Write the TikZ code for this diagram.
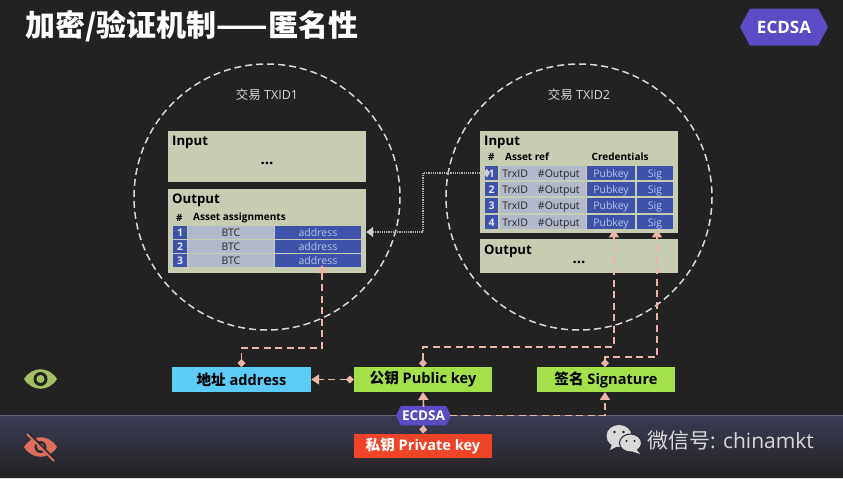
\documentclass[tikz,border=0pt]{standalone}
\usepackage{fontspec}
\usepackage{tikz}
\usetikzlibrary{arrows.meta,shapes.symbols}
\setmainfont{Open Sans}
\newfontfamily\cjk{Noto Sans CJK SC}
\definecolor{bgdark}{HTML}{222222}
\definecolor{bandtop}{HTML}{3B3C54}
\definecolor{boxgreen}{HTML}{C6CDB2}
\definecolor{cellblue}{HTML}{3F52AA}
\definecolor{cellgrey}{HTML}{B2B9CB}
\definecolor{celltext}{HTML}{B9C6EA}
\definecolor{keypink}{HTML}{EDB5A6}
\definecolor{badgeviolet}{HTML}{5B4BC4}
\definecolor{eyegreen}{HTML}{A3C062}
\definecolor{eyered}{HTML}{DF6F5A}
\definecolor{addrblue}{HTML}{5CCBF5}
\definecolor{pubgreen}{HTML}{A4E04A}
\definecolor{privred}{HTML}{F04428}
\tikzset{
  txbox/.style={rectangle,fill=boxgreen,inner sep=0pt},
  txtitle/.style={anchor=west,inner sep=0pt,text=black,font=\fontsize{13.2}{16}\selectfont\bfseries},
  txhead/.style={anchor=west,inner sep=0pt,text=black,font=\fontsize{10}{12}\selectfont\bfseries},
  txdots/.style={inner sep=0pt,text=black,font=\fontsize{15}{16}\selectfont\bfseries},
  circlabel/.style={inner sep=0pt,text=white!85!black,font=\fontsize{12.5}{14}\selectfont},
  numcell/.style={rectangle,fill=cellblue,inner sep=0pt,minimum height=13pt,text height=8.4pt,text depth=0pt,text=white!85!cellblue,font=\fontsize{10.5}{12}\selectfont\bfseries},
  keycell/.style={rectangle,fill=cellblue,inner sep=0pt,minimum height=13pt,text height=8.4pt,text depth=0pt,text=celltext,font=\fontsize{10.5}{12}\selectfont},
  greycell/.style={rectangle,fill=cellgrey,inner sep=0pt,minimum height=13pt,text height=8.4pt,text depth=0pt,text=black!85,font=\fontsize{10.5}{12}\selectfont},
  keybox/.style={rectangle,inner sep=0pt,minimum width=138pt,minimum height=24.5pt,text=black,font=\fontsize{14.6}{16}\selectfont\bfseries},
  badge/.style={signal,signal to=east and west,fill=badgeviolet,inner sep=0pt,text=white,font=\bfseries},
  keyline/.style={line width=1.6pt,keypink,dash pattern=on 7pt off 4.5pt,{Diamond[length=8pt,width=8pt]}-{Triangle[length=8pt,width=10pt]}},
  refline/.style={line width=1.2pt,white!70!black,densely dotted,{Diamond[length=6pt,width=9pt,fill=cellgrey!70!white,color=cellgrey!70!white]}-{Triangle[length=7pt,width=10pt,fill=cellgrey!70!white,color=cellgrey!70!white]}}
}
\begin{document}
\begin{tikzpicture}[x=1pt,y=-1pt]
\useasboundingbox (0,0) rectangle (843,479);
\fill[bgdark] (0,0) rectangle (843,479);
\shade[top color=bandtop,bottom color=bgdark] (0,415) rectangle (843,478);
\draw[bandtop!80!white,line width=0.8pt] (0,415) -- (843,415);
\fill[white!85!black] (0,478) rectangle (843,479);

\node [anchor=west,inner sep=0pt,text=white,font=\fontsize{30}{34}\selectfont\cjk\bfseries] (title) at(25,26){加密/验证机制——匿名性};
\node [badge,minimum width=88pt,minimum height=37pt,signal pointer angle=124,font=\fontsize{17}{19}\selectfont\bfseries] (ecdsatop) at(784,27){ECDSA};

\draw [line width=1.5pt,white!85!black,dash pattern=on 7pt off 4pt] (267,197) circle (133);
\draw [line width=1.5pt,white!85!black,dash pattern=on 7pt off 4pt] (579,197) circle (133);
\node [circlabel] (tx1) at(267,95){{\cjk 交易} TXID1};
\node [circlabel] (tx2) at(579,95){{\cjk 交易} TXID2};

% left transaction
\node [txbox,minimum width=198pt,minimum height=51pt] (in1) at(267,156.5){};
\node [txtitle] (in1t) at(172,142){Input};
\node [txdots] (in1d) at(267,163){...};
\node [txbox,minimum width=198pt,minimum height=84pt] (out1) at(267,231){};
\node [txtitle] (out1t) at(172,200){Output};
\node [txhead] (out1h) at(176,217.5){\#};
\node [txhead] (out1a) at(193,217.5){Asset assignments};
\node [numcell,minimum width=14pt] (o1n) at(180,232){1};
\node [greycell,minimum width=86pt] (o1b) at(231,232){BTC};
\node [keycell,minimum width=85.5pt] (o1a) at(318,232){address};
\node [numcell,minimum width=14pt] (o2n) at(180,246.5){2};
\node [greycell,minimum width=86pt] (o2b) at(231,246.5){BTC};
\node [keycell,minimum width=85.5pt] (o2a) at(318,246.5){address};
\node [numcell,minimum width=14pt] (o3n) at(180,260.5){3};
\node [greycell,minimum width=86pt] (o3b) at(231,260.5){BTC};
\node [keycell,minimum width=85.5pt] (o3a) at(318,260.5){address};

% right transaction
\node [txbox,minimum width=198pt,minimum height=102pt] (in2) at(579,182){};
\node [txtitle] (in2t) at(484,142){Input};
\node [txhead] (in2h) at(488,157){\#};
\node [txhead] (in2a) at(505,157){Asset ref};
\node [txhead] (in2c) at(591.5,157){Credentials};
\node [numcell,minimum width=13pt,minimum height=14.5pt] (r1n) at(491.5,173){1};
\node [greycell,minimum width=86pt,minimum height=14.5pt] (r1g) at(543,173){\hspace{-4pt}TrxID\hspace{10pt}\#Output};
\node [keycell,minimum width=48pt,minimum height=14.5pt] (r1p) at(611,173){Pubkey};
\node [keycell,minimum width=36pt,minimum height=14.5pt] (r1s) at(655,173){Sig};
\node [numcell,minimum width=13pt,minimum height=14.5pt] (r2n) at(491.5,189){2};
\node [greycell,minimum width=86pt,minimum height=14.5pt] (r2g) at(543,189){\hspace{-4pt}TrxID\hspace{10pt}\#Output};
\node [keycell,minimum width=48pt,minimum height=14.5pt] (r2p) at(611,189){Pubkey};
\node [keycell,minimum width=36pt,minimum height=14.5pt] (r2s) at(655,189){Sig};
\node [numcell,minimum width=13pt,minimum height=14.5pt] (r3n) at(491.5,205.5){3};
\node [greycell,minimum width=86pt,minimum height=14.5pt] (r3g) at(543,205.5){\hspace{-4pt}TrxID\hspace{10pt}\#Output};
\node [keycell,minimum width=48pt,minimum height=14.5pt] (r3p) at(611,205.5){Pubkey};
\node [keycell,minimum width=36pt,minimum height=14.5pt] (r3s) at(655,205.5){Sig};
\node [numcell,minimum width=13pt,minimum height=14.5pt] (r4n) at(491.5,222){4};
\node [greycell,minimum width=86pt,minimum height=14.5pt] (r4g) at(543,222){\hspace{-4pt}TrxID\hspace{10pt}\#Output};
\node [keycell,minimum width=48pt,minimum height=14.5pt] (r4p) at(611,222){Pubkey};
\node [keycell,minimum width=36pt,minimum height=14.5pt] (r4s) at(655,222){Sig};
\node [txbox,minimum width=198pt,minimum height=34pt] (out2) at(579,256){};
\node [txtitle] (out2t) at(484,251){Output};
\node [txdots] (out2d) at(579,262){...};

% keys
\node [keybox,fill=addrblue,minimum width=139pt] (addr) at(241.5,379.5){{\cjk 地址} address};
\node [keybox,fill=pubgreen] (pub) at(423,379.5){{\cjk 公钥} Public key};
\node [keybox,fill=pubgreen] (sig) at(606,379.5){{\cjk 签名} Signature};
\node [keybox,fill=privred,text=white] (priv) at(423,446){{\cjk 私钥} Private key};
\node [badge,minimum width=55pt,minimum height=19.5pt,signal pointer angle=126,font=\fontsize{13.5}{15}\selectfont\bfseries] (ecdsa) at(423.5,415.5){ECDSA};

\coordinate (addrbend) at(241.5,348);
\coordinate (pubbend) at(423,347);
\coordinate (sigbend) at(605,357);
\coordinate (dotbend) at(423,232);

\draw[refline] ([xshift=5pt]r1n.west) -| (dotbend) -- (dotbend -| out1.east);
\draw[keyline] (addr.north) |- (addrbend) -| ([xshift=4pt,yshift=2pt]o3a.south);
\draw[keyline] (pub.west) -- (addr.east);
\draw[keyline] (pub.north) |- (pubbend) -| ([xshift=3pt]r4p.south);
\draw[keyline] (sigbend |- sig.north) -- (sigbend) -| ([xshift=2pt]r4s.south);
\draw[keyline,{Diamond[length=8pt,width=8pt]}-] (priv.north) -- (ecdsa.south);
\draw[keyline,{Diamond[length=0.1pt,width=0.1pt]}-{Triangle[length=8pt,width=10pt]}] (ecdsa.north) -- (pub.south);
\draw[keyline,{Diamond[length=0.1pt,width=0.1pt]}-{Triangle[length=8pt,width=10pt]}] (ecdsa.east) -| (sigbend |- sig.south);

% eye icons
\fill[eyegreen] (24,379) .. controls (32,366) and (49,366) .. (57,379) .. controls (49,392) and (32,392) .. (24,379) -- cycle;
\fill[bgdark] (40.5,379) circle (7);
\fill[eyegreen] (40.5,379) circle (4);
\fill[eyered] (24,447) .. controls (32,434) and (49,434) .. (57,447) .. controls (49,460) and (32,460) .. (24,447) -- cycle;
\fill[bgdark!60!bandtop] (40.5,447) circle (6);
\fill[eyered] (40.5,447) circle (3.5);
\draw[bgdark!60!bandtop,line width=3.5pt] (29,434) -- (56,462);
\draw[eyered,line width=2pt] (27,434) -- (54,461);

% wechat mark
\fill[white!85!black] (619,436) ellipse (12.5 and 11);
\fill[white!85!black] (612,444) -- (610,450) -- (618,446) -- cycle;
\draw[bgdark!70!bandtop,line width=1pt,fill=white!85!black] (630.5,443) ellipse (11 and 9);
\fill[white!85!black] (636,449) -- (640,454) -- (631,451) -- cycle;
\fill[bgdark] (614.5,432) circle (1.4);
\fill[bgdark] (623.5,432) circle (1.4);
\fill[bgdark] (626.5,441) circle (1.2);
\fill[bgdark] (634.5,441) circle (1.2);
\node [anchor=west,inner sep=0pt,text=white!85!black,font=\fontsize{21}{24}\selectfont] (wx) at(647,441){{\cjk 微信号}: chinamkt};
\end{tikzpicture}
\end{document}
